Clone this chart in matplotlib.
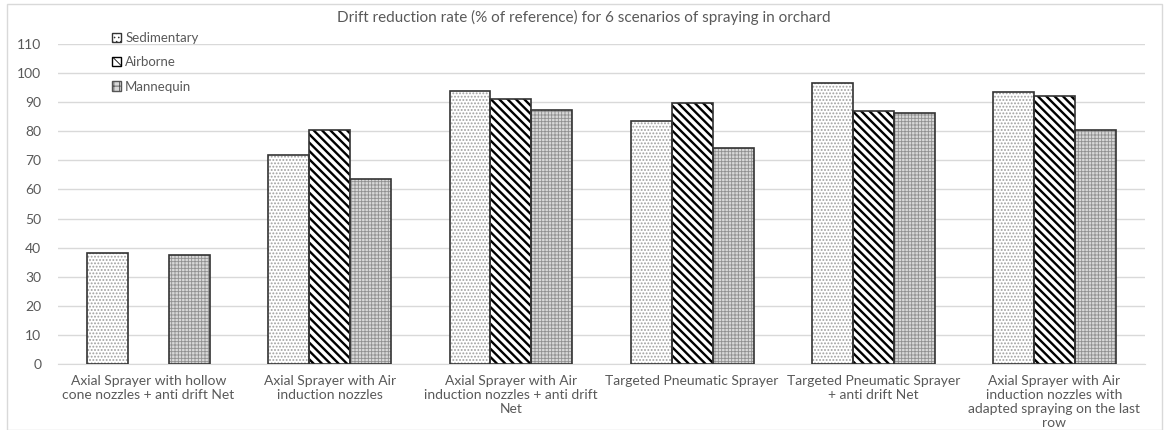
import numpy as np
import matplotlib.pyplot as plt
from matplotlib.patches import Patch

plt.rcParams['font.family'] = ['Lato', 'DejaVu Sans']

categories = ['Axial Sprayer with hollow\ncone nozzles + anti drift Net',
              'Axial Sprayer with Air\ninduction nozzles',
              'Axial Sprayer with Air\ninduction nozzles + anti drift\nNet',
              'Targeted Pneumatic Sprayer',
              'Targeted Pneumatic Sprayer\n+ anti drift Net',
              'Axial Sprayer with Air\ninduction nozzles with\nadapted spraying on the last\nrow']
series = ['Sedimentary', 'Airborne', 'Mannequin']
sedimentary = [38.1, 71.7, 94.0, 83.5, 96.6, 93.4]
airborne = [0, 80.5, 91.0, 89.7, 87.0, 92.3]
mannequin = [37.6, 63.6, 87.5, 74.2, 86.3, 80.5]

txt = '#595959'
fig = plt.figure(figsize=(11.67, 4.30), dpi=100)
ax = fig.add_axes([0.0497, 0.1535, 0.9315, 0.744])

x = np.arange(len(categories))
w = 0.226

# hatch layers first (hatch colour = edgecolor), then dark outlines on top
plt.rcParams['hatch.linewidth'] = 0.9
ax.bar(x - w, sedimentary, w, color='white', edgecolor='#a0a0a0', hatch='.....', linewidth=0, zorder=2)
plt.rcParams['hatch.linewidth'] = 1.7
ax.bar(x, airborne, w, color='white', edgecolor='black', hatch='\\\\\\\\', linewidth=0, zorder=2)
plt.rcParams['hatch.linewidth'] = 0.6
ax.bar(x + w, mannequin, w, color='#d8d8d8', edgecolor='#909090', hatch='+++++', linewidth=0, zorder=2)

for off, vals in zip([-w, 0, w], [sedimentary, airborne, mannequin]):
    lw = [1.2 if v > 0 else 0 for v in vals]
    ax.bar(x + off, vals, w, fill=False, edgecolor='#333333', linewidth=lw, zorder=3)

ax.set_xlim(-0.5, 5.5)
ax.set_ylim(0, 110)
ax.set_yticks(range(0, 111, 10))
ax.grid(axis='y', color='#d9d9d9', linewidth=1.0, zorder=0)
ax.set_xticks(x)
ax.set_xticklabels(categories, fontsize=10, color=txt, va='top', linespacing=1.2)
ax.tick_params(axis='both', length=0, labelsize=10, colors=txt)
ax.tick_params(axis='x', pad=8)
ax.tick_params(axis='y', pad=12)
for s in ['top', 'right', 'left']:
    ax.spines[s].set_visible(False)
ax.spines['bottom'].set_color('#d9d9d9')

fig.text(0.5, 0.96, 'Drift reduction rate (% of reference) for 6 scenarios of spraying in orchard',
         fontsize=11, color=txt, ha='center', va='center')

# legend proxies share the hatches of the bars
plt.rcParams['hatch.linewidth'] = 0.9
h1 = Patch(facecolor='white', edgecolor='#333333', hatch='....', label=series[0])
plt.rcParams['hatch.linewidth'] = 1.7
h2 = Patch(facecolor='white', edgecolor='black', hatch='\\\\\\', label=series[1])
plt.rcParams['hatch.linewidth'] = 0.6
h3 = Patch(facecolor='#d8d8d8', edgecolor='#555555', hatch='+++', label=series[2])
fig.legend(handles=[h1, h2, h3], loc='upper left', bbox_to_anchor=(0.096, 0.925), frameon=False,
           fontsize=9.5, labelcolor=txt, handlelength=0.7, handleheight=0.7, handletextpad=0.3,
           labelspacing=0.92, borderpad=0, borderaxespad=0)

fig.patches.append(plt.Rectangle((0.006, 0.0), 0.99, 0.99, transform=fig.transFigure,
                                 fill=False, edgecolor='#d9d9d9', linewidth=1.0))

plt.savefig('out.png', dpi=100)
